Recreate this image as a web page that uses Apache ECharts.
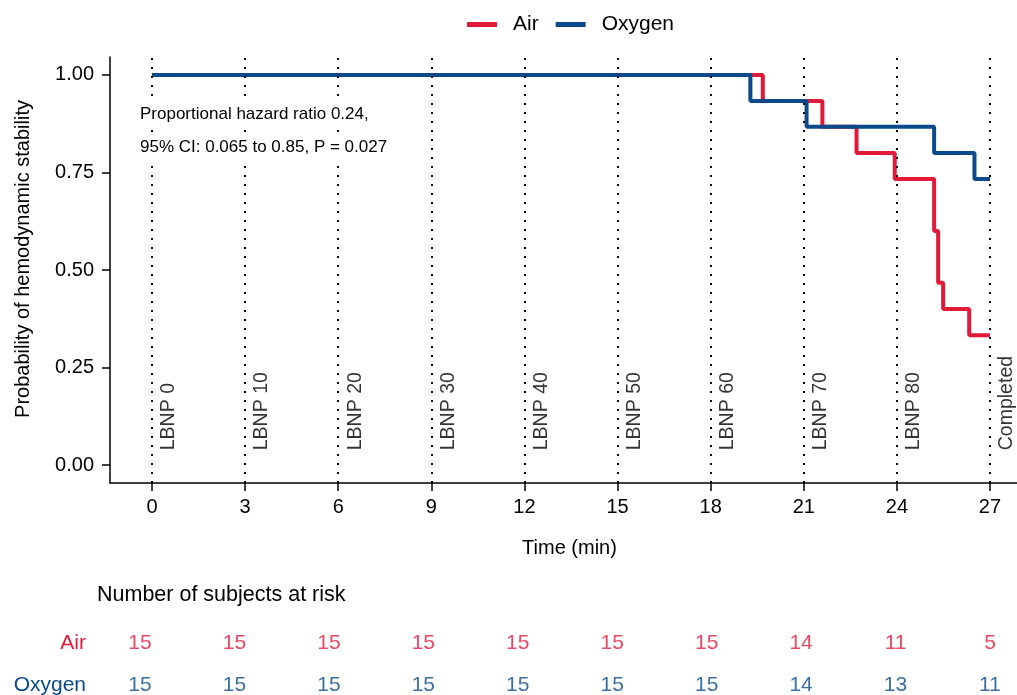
<!DOCTYPE html>
<html>
<head>
<meta charset="utf-8">
<script src="https://cdn.jsdelivr.net/npm/echarts@6/dist/echarts.min.js"></script>
<style>
html,body{margin:0;padding:0;background:#fff;}
#chart{width:1017px;height:695px;}
</style>
</head>
<body>
<div id="chart"></div>
<script>
// ---- data ----
const timeTicks = [0, 3, 6, 9, 12, 15, 18, 21, 24, 27];
const stageLabels = ['LBNP 0', 'LBNP 10', 'LBNP 20', 'LBNP 30', 'LBNP 40', 'LBNP 50', 'LBNP 60', 'LBNP 70', 'LBNP 80', 'Completed'];
const yTicks = [0, 0.25, 0.5, 0.75, 1];
const groups = ['Air', 'Oxygen'];
const airTimes = [0, 19.68, 21.6, 22.7, 23.93, 25.2, 25.33, 25.49, 26.33, 27];
const airSurv  = [1, 0.933, 0.867, 0.8, 0.733, 0.6, 0.467, 0.4, 0.333, 0.333];
const oxyTimes = [0, 19.28, 21.09, 25.2, 26.5, 27];
const oxySurv  = [1, 0.933, 0.867, 0.8, 0.733, 0.733];
const airAtRisk = [15, 15, 15, 15, 15, 15, 15, 14, 11, 5];
const oxyAtRisk = [15, 15, 15, 15, 15, 15, 15, 14, 13, 11];
const annotation = ['Proportional hazard ratio 0.24,', '95% CI: 0.065 to 0.85, P = 0.027'];

const RED = '#E21A3A';
const BLUE = '#0B4A8A';
const FONT = 'Liberation Sans, Arial, Helvetica, sans-serif';

const chart = echarts.init(document.getElementById('chart'), null, {renderer: 'canvas'});

const zip = (a, b) => a.map((v, i) => [v, b[i]]);

const option = {
  animation: false,
  backgroundColor: '#fff',
  textStyle: {fontFamily: FONT},
  legend: {
    data: groups,
    left: 467, top: 14, padding: 0,
    icon: 'rect', itemWidth: 30, itemHeight: 5, itemGap: 17,
    textStyle: {fontSize: 21, color: '#000', fontFamily: FONT, padding: [0, 0, 0, 11]}
  },
  grid: [
    {left: 110, right: 0, top: 57, bottom: 212, outerBoundsMode: 'none', containLabel: false},
    {left: 110, right: 0, top: 622, height: 84, outerBoundsMode: 'none', containLabel: false}
  ],
  xAxis: [
    {
      type: 'value', gridIndex: 0, min: -1.353, max: 27.87,
      name: 'Time (min)', nameLocation: 'middle', nameGap: 55,
      nameTextStyle: {fontSize: 20, color: '#000', fontFamily: FONT, padding: [0, 0, 0, 12]},
      axisLine: {show: true, onZero: false, lineStyle: {color: '#000', width: 1.5}},
      axisTick: {show: true, customValues: timeTicks, length: 8, lineStyle: {color: '#000', width: 1.5}},
      axisLabel: {show: true, customValues: timeTicks, fontSize: 20, color: '#000', margin: 14, fontFamily: FONT},
      splitLine: {show: false}
    },
    {
      type: 'value', gridIndex: 1, min: -0.953, max: 27.858,
      axisLine: {show: false}, axisTick: {show: false}, axisLabel: {show: false}, splitLine: {show: false}
    }
  ],
  yAxis: [
    {
      type: 'value', gridIndex: 0, min: -0.046, max: 1.046,
      name: 'Probability of hemodynamic stability', nameLocation: 'middle', nameGap: 77,
      nameTextStyle: {fontSize: 20, color: '#000', fontFamily: FONT, padding: [0, 0, 0, 22]},
      axisLine: {show: true, onZero: false, lineStyle: {color: '#000', width: 1.5}},
      axisTick: {show: true, customValues: yTicks, length: 8, lineStyle: {color: '#000', width: 1.5}},
      axisLabel: {show: true, customValues: yTicks, fontSize: 20, color: '#000', margin: 16, fontFamily: FONT,
        formatter: v => Number(v).toFixed(2)},
      splitLine: {show: false}
    },
    {
      type: 'category', gridIndex: 1, data: groups, inverse: true,
      axisLine: {show: false}, axisTick: {show: false}, splitLine: {show: false},
      axisLabel: {fontSize: 21, margin: 24, fontFamily: FONT,
        color: (v) => v === 'Air' ? RED : BLUE}
    }
  ],
  graphic: [
    {type: 'text', left: 138, top: 103, z: 100,
      style: {text: annotation[0], fontSize: 17, fill: '#000', fontFamily: FONT,
        backgroundColor: '#fff', padding: [3, 2, 3, 2]}},
    {type: 'text', left: 138, top: 136, z: 100,
      style: {text: annotation[1], fontSize: 17, fill: '#000', fontFamily: FONT,
        backgroundColor: '#fff', padding: [3, 2, 3, 2]}},
    {type: 'text', left: 97, top: 584, style: {text: 'Number of subjects at risk', fontSize: 21.5, fill: '#000', fontFamily: FONT}}
  ],
  series: [
    {
      name: 'stages', type: 'scatter', xAxisIndex: 0, yAxisIndex: 0,
      symbolSize: 0, silent: true,
      data: timeTicks.map((t, i) => [t, 0.038, stageLabels[i]]),
      label: {
        show: true, position: [0, 0], rotate: 90, align: 'left', verticalAlign: 'top',
        offset: [0, 7],
        formatter: p => p.value[2], fontSize: 19.5, color: '#000', fontFamily: FONT
      },
      markLine: {
        silent: true, symbol: 'none',
        lineStyle: {color: '#000', type: [2, 7], width: 2},
        label: {show: false},
        data: timeTicks.map(t => ({xAxis: t}))
      }
    },
    {
      name: 'Air', type: 'line', step: 'end', xAxisIndex: 0, yAxisIndex: 0,
      showSymbol: false, symbol: 'none', color: RED,
      lineStyle: {width: 4, color: RED},
      data: zip(airTimes, airSurv)
    },
    {
      name: 'Oxygen', type: 'line', step: 'end', xAxisIndex: 0, yAxisIndex: 0,
      showSymbol: false, symbol: 'none', color: BLUE,
      lineStyle: {width: 4, color: BLUE},
      data: zip(oxyTimes, oxySurv)
    },
    {
      name: 'riskAir', type: 'scatter', xAxisIndex: 1, yAxisIndex: 1, symbolSize: 0, silent: true,
      data: timeTicks.map((t, i) => [t, 'Air', airAtRisk[i]]),
      label: {show: true, position: 'inside', formatter: p => String(p.value[2]), fontSize: 21, color: RED, fontFamily: FONT}
    },
    {
      name: 'riskOxygen', type: 'scatter', xAxisIndex: 1, yAxisIndex: 1, symbolSize: 0, silent: true,
      data: timeTicks.map((t, i) => [t, 'Oxygen', oxyAtRisk[i]]),
      label: {show: true, position: 'inside', formatter: p => String(p.value[2]), fontSize: 21, color: BLUE, fontFamily: FONT}
    }
  ]
};
chart.setOption(option);
</script>
</body>
</html>
